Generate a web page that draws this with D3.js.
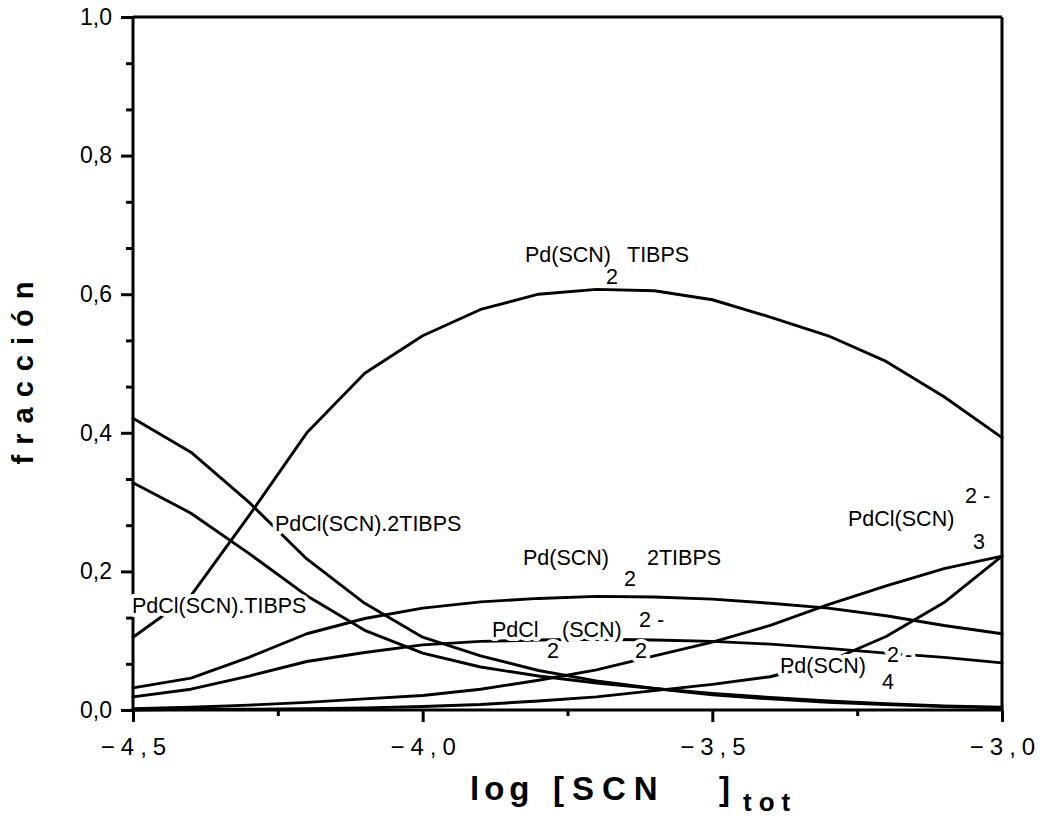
<!DOCTYPE html>
<html><head><meta charset="utf-8">
<script src="https://cdn.jsdelivr.net/npm/d3@7"></script>
<style>
html,body{margin:0;padding:0;background:#fff;}
svg{display:block;font-family:"Liberation Sans",Arial,Helvetica,sans-serif;}
</style></head>
<body>
<svg id="chart" width="1044" height="819"></svg>
<script>
// ---- data ----
const logSCN = [-4.5,-4.4,-4.3,-4.2,-4.1,-4.0,-3.9,-3.8,-3.7,-3.6,-3.5,-3.4,-3.3,-3.2,-3.1,-3.0];
const pdSCN2TIBPS    = [0.105,0.165,0.28,0.40,0.486,0.54,0.578,0.600,0.607,0.605,0.592,0.567,0.540,0.503,0.452,0.393];
const pdClSCN2TIBPS  = [0.421,0.372,0.300,0.218,0.154,0.105,0.078,0.057,0.042,0.031,0.022,0.016,0.011,0.008,0.005,0.003];
const pdClSCNTIBPS   = [0.328,0.284,0.226,0.165,0.115,0.082,0.062,0.049,0.039,0.031,0.024,0.018,0.013,0.009,0.006,0.004];
const pdSCN2_2TIBPS  = [0.032,0.046,0.076,0.110,0.132,0.147,0.156,0.161,0.164,0.163,0.160,0.154,0.147,0.136,0.122,0.110];
const pdCl2SCN2      = [0.019,0.030,0.049,0.070,0.083,0.094,0.099,0.101,0.102,0.101,0.099,0.095,0.089,0.082,0.076,0.068];
const pdClSCN3       = [0.002,0.004,0.007,0.011,0.016,0.021,0.030,0.043,0.058,0.078,0.098,0.122,0.152,0.179,0.204,0.222];
const pdSCN4         = [0.000,0.001,0.001,0.002,0.003,0.005,0.008,0.013,0.019,0.028,0.037,0.048,0.070,0.106,0.155,0.222];
const seriesList = [pdSCN2TIBPS, pdClSCN2TIBPS, pdClSCNTIBPS, pdSCN2_2TIBPS, pdCl2SCN2, pdClSCN3, pdSCN4];
const xMajorTicks = [-4.5,-4.0,-3.5,-3.0];
const xMinorTicks = [-4.25,-3.75,-3.25];
const yMajorTicks = [0,0.2,0.4,0.6,0.8,1.0];
const yMinorTicks = [1,2,4,5,7,8,10,11,13,14].map(k => k/15);

// ---- layout ----
const svg = d3.select("#chart");
const x = d3.scaleLinear().domain([-4.5,-3.0]).range([133,1002]);
const y = d3.scaleLinear().domain([0,1]).range([710,17]);
const comma = v => d3.format(".1f")(v).replace(".", ",");

// frame
const frame = svg.append("g").attr("stroke","#000").attr("stroke-width",3).attr("fill","none");
frame.append("line").attr("x1",x(-4.5)).attr("x2",x(-3.0)).attr("y1",y(1)).attr("y2",y(1));
frame.append("line").attr("x1",x(-3.0)).attr("x2",x(-3.0)).attr("y1",y(1)).attr("y2",y(0));
frame.append("line").attr("x1",x(-4.5)).attr("x2",x(-4.5)).attr("y1",y(1)).attr("y2",y(0));
frame.append("line").attr("x1",x(-4.5)).attr("x2",x(-3.0)).attr("y1",y(0)).attr("y2",y(0));

// y axis
const yAxMaj = d3.axisLeft(y).tickValues(yMajorTicks).tickSize(12).tickPadding(9).tickFormat(comma);
const yAxMin = d3.axisLeft(y).tickValues(yMinorTicks).tickSize(7).tickFormat("");
const gy1 = svg.append("g").attr("transform",`translate(${x(-4.5)},0)`).call(yAxMaj);
const gy2 = svg.append("g").attr("transform",`translate(${x(-4.5)},0)`).call(yAxMin);
[gy1,gy2].forEach(g=>{g.select(".domain").remove();g.selectAll("line").attr("stroke","#000").attr("stroke-width",3);});
gy1.selectAll("text").attr("font-size",23).attr("fill","#000").attr("font-family","Liberation Sans, Arial, sans-serif");

// x axis
const xAxMaj = d3.axisBottom(x).tickValues(xMajorTicks).tickSize(12).tickPadding(16).tickFormat(comma);
const xAxMin = d3.axisBottom(x).tickValues(xMinorTicks).tickSize(6).tickFormat("");
const gx1 = svg.append("g").attr("transform",`translate(0,${y(0)})`).call(xAxMaj);
const gx2 = svg.append("g").attr("transform",`translate(0,${y(0)})`).call(xAxMin);
[gx1,gx2].forEach(g=>{g.select(".domain").remove();g.selectAll("line").attr("stroke","#000").attr("stroke-width",3);});
gx1.selectAll("text").attr("font-size",24).attr("fill","#000").attr("letter-spacing","6px")
   .attr("font-family","Liberation Sans, Arial, sans-serif").attr("dx","3px");

// curves
const line = d3.line().x((d,i)=>x(logSCN[i])).y(d=>y(d));
svg.append("g").selectAll("path").data(seriesList).join("path")
  .attr("d", line).attr("fill","none").attr("stroke","#000").attr("stroke-width",2.9)
  .attr("stroke-linejoin","round").attr("stroke-linecap","round");

// curve labels (with white halo to break lines like the original)
const lab = svg.append("g").attr("font-size",21.5).attr("fill","#000")
  .attr("stroke","#fff").attr("stroke-width",8).attr("paint-order","stroke").attr("stroke-linejoin","round");
function put(xx,yy,parts){
  const t = lab.append("text").attr("x",xx).attr("y",yy);
  parts.forEach(p=>{
    const s = t.append("tspan").text(p.t);
    if(p.x!==undefined) s.attr("x",p.x);
    if(p.y!==undefined) s.attr("y",p.y);
  });
}
put(525,262,[{t:"Pd(SCN)"},{t:"2",x:606,y:284},{t:"TIBPS",x:627,y:262}]);
put(275,531,[{t:"PdCl(SCN).2TIBPS"}]);
put(132,613,[{t:"PdCl(SCN).TIBPS"}]);
put(523,565,[{t:"Pd(SCN)"},{t:"2",x:624,y:586},{t:"2TIBPS",x:647,y:565}]);
put(492,637,[{t:"PdCl"},{t:"2",x:547,y:658},{t:"(SCN)",x:562,y:637},{t:"2 -",x:639,y:627},{t:"2",x:635,y:658}]);
put(848,526,[{t:"PdCl(SCN)"},{t:"2 -",x:965,y:503},{t:"3",x:973,y:549}]);
put(780,673,[{t:"Pd(SCN)"},{t:"2 -",x:887,y:662},{t:"4",x:882,y:689}]);

// axis titles
svg.append("text").attr("transform","translate(33,368) rotate(-90)").attr("text-anchor","middle")
  .attr("font-size",29).attr("font-weight","bold").attr("letter-spacing","10px").text("fracción");
const xt = svg.append("text").attr("y",800).attr("font-size",33).attr("font-weight","bold").attr("letter-spacing","5px");
xt.append("tspan").attr("x",470).text("log");
xt.append("tspan").attr("x",553).attr("letter-spacing","8px").text("[SCN");
xt.append("tspan").attr("x",719).text("]");
xt.append("tspan").attr("x",743).attr("y",811).attr("font-size",26).attr("letter-spacing","7px").text("tot");
</script>
</body></html>
